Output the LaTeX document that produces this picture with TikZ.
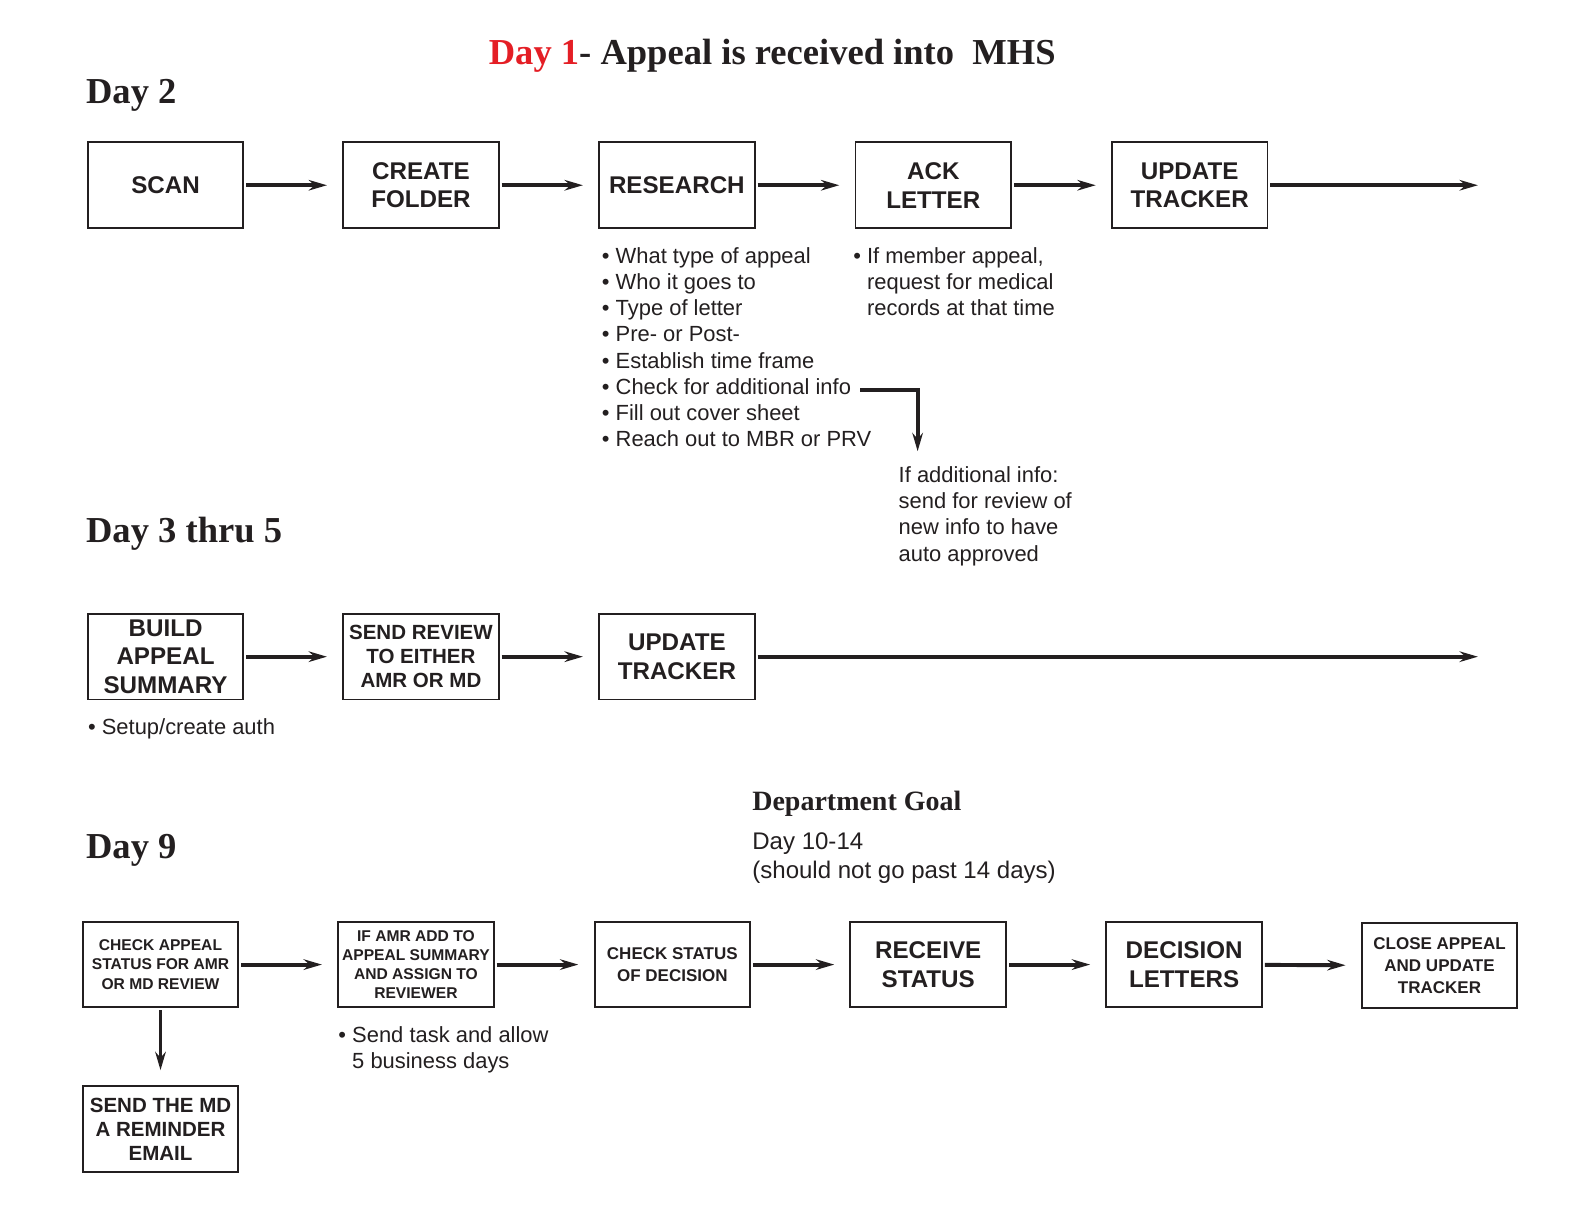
\documentclass[tikz,border=0pt]{standalone}
\usepackage{fontspec}
\setmainfont{Liberation Serif}
\setsansfont{Liberation Sans}
\usetikzlibrary{arrows.meta}
\definecolor{dayred}{RGB}{228,30,37}
\definecolor{ink}{RGB}{35,31,32}

\tikzset{
  stepbox/.style={draw=ink, line width=1.4pt, minimum width=3.89cm, minimum height=2.14cm, inner sep=1pt, align=center, text=ink},
  txtbig/.style={font=\sffamily\bfseries\fontsize{17.2}{20.5}\selectfont},
  txtmid/.style={font=\sffamily\bfseries\fontsize{14.6}{17.2}\selectfont},
  txtsmall/.style={font=\sffamily\bfseries\fontsize{12.1}{15.7}\selectfont},
  txttiny/.style={font=\sffamily\bfseries\fontsize{11.1}{13.6}\selectfont},
  flow/.style={draw=ink, line width=2.8pt, -{Stealth[length=13pt,width=7.5pt]}, shorten >=0.38cm, shorten <=0.05cm},
  daylabel/.style={font=\rmfamily\bfseries\fontsize{26}{31}\selectfont, text=ink, anchor=base west, inner sep=0},
  notes/.style={font=\sffamily\fontsize{15.6}{18.6}\selectfont, text=ink, align=left, anchor=north west, inner sep=0},
}

\begin{document}
\begin{tikzpicture}[x=0.02524cm, y=-0.02524cm]
	\useasboundingbox (0,0) rectangle (1569.1,1212.5);

	% headings
	\node[daylabel, anchor=base] (title) at (765,64) {\textcolor{dayred}{Day 1}- Appeal is received into~~MHS};
	\node[daylabel] (day2) at (85,103) {Day 2};
	\node[daylabel] (day3) at (85,537) {Day 3 thru 5};
	\node[daylabel] (day9) at (85,850) {Day 9};
	\node[daylabel, font=\rmfamily\bfseries\fontsize{19.9}{24}\selectfont] (goal) at (745,803) {Department Goal};
	\node[notes, font=\sffamily\fontsize{17.1}{20}\selectfont] (goaltxt) at (745,825) {Day 10-14\\(should not go past 14 days)};

	% day 2 boxes
	\node[stepbox, txtbig] (scan) at (164,183.5) {SCAN};
	\node[stepbox, txtbig] (folder) at (417,183.5) {CREATE\\FOLDER};
	\node[stepbox, txtbig] (research) at (670.5,183.5) {RESEARCH};
	\node[stepbox, txtbig] (ack) at (924.5,183.5) {ACK\\LETTER};
	\node[stepbox, txtbig] (trackA) at (1178.5,183.5) {UPDATE\\TRACKER};
	\coordinate (endA) at (1464,183.5);

	% day 3 thru 5 boxes
	\node[stepbox, txtbig] (build) at (164,650.5) {BUILD\\APPEAL\\SUMMARY};
	\node[stepbox, txtmid] (sendrev) at (417,650.5) {SEND REVIEW\\TO EITHER\\AMR OR MD};
	\node[stepbox, txtbig] (trackB) at (670.5,650.5) {UPDATE\\TRACKER};
	\coordinate (endB) at (1464,650.5);

	% day 9 boxes
	\node[stepbox, txttiny] (checkamr) at (159,955.5) {CHECK APPEAL\\STATUS FOR AMR\\OR MD REVIEW};
	\node[stepbox, txttiny] (ifamr) at (412,955.5) {IF AMR ADD TO\\APPEAL SUMMARY\\AND ASSIGN TO\\REVIEWER};
	\node[stepbox, txtsmall] (checkdec) at (666,955.5) {CHECK STATUS\\OF DECISION};
	\node[stepbox, txtbig] (receive) at (919.5,955.5) {RECEIVE\\STATUS};
	\node[stepbox, txtbig] (letters) at (1173,955.5) {DECISION\\LETTERS};
	\node[stepbox, txtsmall] (close) at (1426,956.5) {CLOSE APPEAL\\AND UPDATE\\TRACKER};
	\node[stepbox, txtmid] (reminder) at (159,1118.5) {SEND THE MD\\A REMINDER\\EMAIL};

	% arrows
	\foreach \a/\b in {scan/folder, folder/research, research/ack, ack/trackA,
		build/sendrev, sendrev/trackB,
		checkamr/ifamr, ifamr/checkdec, checkdec/receive, receive/letters, letters/close,
		checkamr/reminder}
	\draw[flow] (\a) -- (\b);
	\draw[flow, shorten >=0pt] (trackA) -- (endA);
	\draw[flow, shorten >=0pt] (trackB) -- (endB);

	% notes
	\node[notes] (researchtxt) at (596,245) {\textbullet\ What type of appeal\\
		\textbullet\ Who it goes to\\
		\textbullet\ Type of letter\\
		\textbullet\ Pre- or Post-\\
		\textbullet\ Establish time frame\\
		\textbullet\ Check for additional info\\
		\textbullet\ Fill out cover sheet\\
		\textbullet\ Reach out to MBR or PRV};
	\node[notes] (acktxt) at (845,245) {\textbullet\ If member appeal,\\
		\phantom{\textbullet\ }request for medical\\
		\phantom{\textbullet\ }records at that time};
	\node[notes] (infotxt) at (890,462) {If additional info:\\send for review of\\new info to have\\auto approved};
	\node[notes] (authtxt) at (87,712) {\textbullet\ Setup/create auth};
	\node[notes] (tasktxt) at (335,1017) {\textbullet\ Send task and allow\\\phantom{\textbullet\ }5 business days};

	\coordinate (infoA) at (852,386.5);
	\coordinate (infoB) at (909,447);
	\draw[flow, shorten >=0pt, shorten <=0pt] (infoA) -| (infoB);
\end{tikzpicture}
\end{document}
